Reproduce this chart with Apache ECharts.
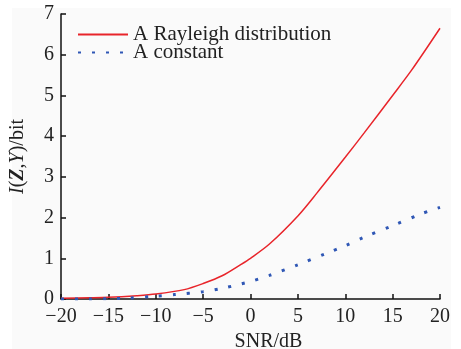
<!DOCTYPE html>
<html><head><meta charset="utf-8">
<script src="https://cdn.jsdelivr.net/npm/echarts@6/dist/echarts.min.js"></script>
<style>html,body{margin:0;padding:0;background:#fff}#c{width:461px;height:349px}</style>
</head><body><div id="c"></div>
<script>
var rayleighX = [-20, -17, -15, -12, -10, -7, -5, -3, -1, 0, 2, 5, 7, 10, 12, 15, 17, 20];
var rayleighY = [0.02, 0.03, 0.04, 0.08, 0.12, 0.23, 0.38, 0.57, 0.85, 1.0, 1.35, 2.04, 2.6, 3.48, 4.08, 5.0, 5.62, 6.65];
var constantX = [-20, -17, -15, -13, -10, -8, -5, -3, -1, 0, 2, 5, 8, 10, 12, 15, 18, 20];
var constantY = [0.0, 0.0, 0.01, 0.02, 0.07, 0.11, 0.18, 0.26, 0.37, 0.43, 0.58, 0.84, 1.12, 1.31, 1.52, 1.8, 2.09, 2.25];
var xTicks = [-20, -15, -10, -5, 0, 5, 10, 15, 20];
var yTicks = [0, 1, 2, 3, 4, 5, 6, 7];
var seriesNames = ['A Rayleigh distribution', 'A constant'];

function pairs(xs, ys) { return xs.map(function (x, i) { return [x, ys[i]]; }); }
var FONT = 'Liberation Serif';
var chart = echarts.init(document.getElementById('c'), null, {renderer: 'canvas'});
chart.setOption({
  backgroundColor: '#ffffff',
  animation: false,
  graphic: [{type: 'rect', left: 12, top: 8, shape: {width: 439, height: 341}, style: {fill: '#fafafa'}, z: -10}],
  grid: {left: 61, right: 21, top: 14, bottom: 50, containLabel: false, outerBoundsMode: 'none'},
  legend: {
    orient: 'vertical', left: 72, top: 19, itemWidth: 50, itemHeight: 10, itemGap: -3,
    itemStyle: {opacity: 0},
    textStyle: {fontFamily: FONT, fontSize: 21, color: '#222', lineHeight: 16},
    data: seriesNames
  },
  xAxis: {
    type: 'value', min: -20, max: 20, interval: 5,
    name: 'SNR/dB', nameLocation: 'middle', nameGap: 33,
    nameTextStyle: {fontFamily: FONT, fontSize: 20, color: '#222', padding: [0, 0, 0, 36]},
    axisLine: {onZero: false, lineStyle: {color: '#111', width: 1.5}},
    axisTick: {inside: true, length: 5, lineStyle: {color: '#111', width: 1.5}},
    splitLine: {show: false},
    axisLabel: {fontFamily: FONT, fontSize: 20, color: '#222', margin: 8,
      formatter: function (v) { return String(v).replace('-', '\u2212'); }}
  },
  yAxis: {
    type: 'value', min: 0, max: 7, interval: 1,
    name: '{i|I}{n|(}{b|Z}{n|,}{i|Y}{n|)/bit}', nameLocation: 'middle', nameGap: 33,
    nameTextStyle: {fontFamily: FONT, fontSize: 20, color: '#222',
      rich: {
        i: {fontFamily: FONT, fontSize: 20, fontStyle: 'italic', color: '#222'},
        b: {fontFamily: FONT, fontSize: 20, fontStyle: 'italic', fontWeight: 'bold', color: '#222'},
        n: {fontFamily: FONT, fontSize: 20, color: '#222'}
      }},
    axisLine: {show: true, onZero: false, lineStyle: {color: '#111', width: 1.5}},
    axisTick: {show: true, inside: true, length: 5, lineStyle: {color: '#111', width: 1.5}},
    splitLine: {show: false},
    axisLabel: {fontFamily: FONT, fontSize: 20, color: '#222', margin: 7}
  },
  series: [
    {name: seriesNames[0], type: 'line', data: pairs(rayleighX, rayleighY), smooth: 0.3,
      showSymbol: false, symbol: 'none', lineStyle: {color: '#e8242a', width: 1.5}, itemStyle: {color: '#e8242a'}},
    {name: seriesNames[1], type: 'line', data: pairs(constantX, constantY), smooth: 0.3,
      showSymbol: false, symbol: 'none', lineStyle: {color: '#2f57b5', width: 3, type: [3, 11]}, itemStyle: {color: '#2f57b5'}}
  ]
});
</script></body></html>
